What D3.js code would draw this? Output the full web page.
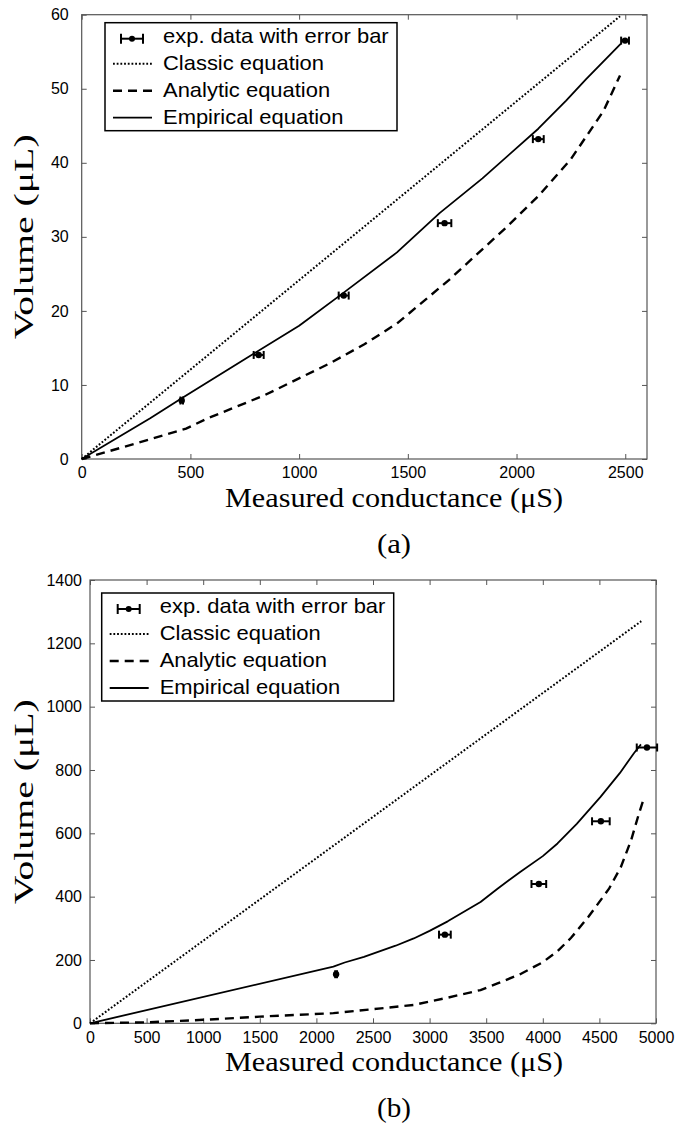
<!DOCTYPE html>
<html>
<head>
<meta charset="utf-8">
<script src="https://cdn.jsdelivr.net/npm/d3@7"></script>
<style>
  body { margin: 0; background: #fff; }
  .tick text { font-family: "Liberation Sans", Arial, sans-serif; font-size: 16px; fill: #000; }
  .tick line { stroke: #555; }
  .lab { font-family: "Liberation Serif", "Times New Roman", serif; font-size: 28px; fill: #000; }
  .leg { font-family: "Liberation Sans", Arial, sans-serif; font-size: 21px; fill: #000; }
</style>
</head>
<body>
<svg width="676" height="1125"></svg>
<script>
// panel (a)
const ticksXA = [0, 500, 1000, 1500, 2000, 2500];
const ticksYA = [0, 10, 20, 30, 40, 50, 60];
const expXA = [460, 814, 1205, 1669, 2100, 2499];
const expYA = [7.9, 14.05, 22.07, 31.85, 43.2, 56.5];
const expErrA = [6, 23, 23, 31, 25, 18];
const classicXA = [0, 2476];
const classicYA = [0, 59.8];
const analyticXA = [0, 250, 480, 580, 840, 1140, 1300, 1450, 1690, 1950, 2100, 2250, 2400, 2476];
const analyticYA = [0, 2.1, 4.1, 5.5, 8.6, 12.9, 15.5, 18.3, 24.2, 31.2, 35.5, 40.5, 47.0, 51.8];
const empiricalXA = [0, 315, 460, 757, 1000, 1202, 1450, 1646, 1843, 2100, 2228, 2320, 2480];
const empiricalYA = [0, 5.5, 8.2, 13.6, 18.0, 22.4, 27.9, 33.2, 37.9, 44.6, 48.4, 51.3, 56.1];

// panel (b)
const ticksXB = [0, 500, 1000, 1500, 2000, 2500, 3000, 3500, 4000, 4500, 5000];
const ticksYB = [0, 200, 400, 600, 800, 1000, 1200, 1400];
const expXB = [2174, 3135, 3965, 4513, 4920];
const expYB = [155, 280, 440, 638, 871];
const expErrB = [8, 52, 65, 78, 90];
const classicXB = [0, 4870];
const classicYB = [0, 1270];
const analyticXB = [0, 500, 1000, 1500, 2150, 2570, 2860, 3160, 3450, 3600, 3800, 4000, 4130, 4250, 4400, 4585, 4690, 4780, 4850, 4890];
const analyticYB = [0, 3, 11, 21, 32, 47, 58, 81, 105, 126, 155, 193, 228, 270, 335, 425, 494, 578, 663, 707];
const empiricalXB = [0, 2150, 2250, 2420, 2700, 2860, 3000, 3160, 3450, 3600, 3800, 4000, 4130, 4300, 4510, 4680, 4805, 4867];
const empiricalYB = [0, 179, 192, 210, 245, 268, 292, 322, 383, 425, 478, 528, 568, 630, 715, 790, 853, 881];

const legendLabels = ["exp. data with error bar", "Classic equation", "Analytic equation", "Empirical equation"];

const svg = d3.select("svg");

function zip(xs, ys) { return xs.map((x, i) => [x, ys[i]]); }

// the printed figure is stretched along its text runs
function stretch(sel, factor) {
  sel.each(function() {
    const w = this.getComputedTextLength();
    d3.select(this).attr("textLength", w * factor).attr("lengthAdjust", "spacingAndGlyphs");
  });
}

function drawPanel(p) {
  const x = d3.scaleLinear().domain(p.xDomain).range([p.left, p.right]);
  const y = d3.scaleLinear().domain(p.yDomain).range([p.bottom, p.top]);
  const fmt = d3.format("d");

  svg.append("g")
    .attr("transform", `translate(0,${p.bottom})`)
    .call(d3.axisBottom(x).tickValues(p.ticksX).tickFormat(fmt).tickSizeInner(-5).tickSizeOuter(0).tickPadding(8))
    .call(g => g.select(".domain").remove());
  svg.append("g")
    .attr("transform", `translate(0,${p.top})`)
    .call(d3.axisTop(x).tickValues(p.ticksX).tickFormat("").tickSizeInner(-5).tickSizeOuter(0))
    .call(g => g.select(".domain").remove());
  svg.append("g")
    .attr("transform", `translate(${p.left},0)`)
    .call(d3.axisLeft(y).tickValues(p.ticksY).tickFormat(fmt).tickSizeInner(-5).tickSizeOuter(0).tickPadding(p.yPad))
    .call(g => g.select(".domain").remove());
  svg.append("g")
    .attr("transform", `translate(${p.right},0)`)
    .call(d3.axisRight(y).tickValues(p.ticksY).tickFormat("").tickSizeInner(-5).tickSizeOuter(0))
    .call(g => g.select(".domain").remove());

  svg.append("rect")
    .attr("x", p.left).attr("y", p.top)
    .attr("width", p.right - p.left).attr("height", p.bottom - p.top)
    .attr("fill", "none").attr("stroke", "#555").attr("stroke-width", 1.2);

  const line = d3.line().x(d => x(d[0])).y(d => y(d[1]));

  svg.append("path").datum(zip(p.classicX, p.classicY))
    .attr("d", line).attr("fill", "none").attr("stroke", "#000")
    .attr("stroke-width", 2).attr("stroke-dasharray", "1.8,1.9");
  svg.append("path").datum(zip(p.analyticX, p.analyticY))
    .attr("d", line).attr("fill", "none").attr("stroke", "#000")
    .attr("stroke-width", 2.4).attr("stroke-dasharray", "9,6");
  svg.append("path").datum(zip(p.empiricalX, p.empiricalY))
    .attr("d", line).attr("fill", "none").attr("stroke", "#000")
    .attr("stroke-width", 1.8).attr("stroke-linejoin", "round");

  const pts = svg.append("g").selectAll("g")
    .data(p.expX.map((v, i) => ({ x: v, y: p.expY[i], e: p.expErr[i] })))
    .join("g");
  pts.append("line")
    .attr("x1", d => x(d.x - d.e)).attr("x2", d => x(d.x + d.e))
    .attr("y1", d => y(d.y)).attr("y2", d => y(d.y))
    .attr("stroke", "#000").attr("stroke-width", 2);
  pts.append("line")
    .attr("x1", d => x(d.x - d.e)).attr("x2", d => x(d.x - d.e))
    .attr("y1", d => y(d.y) - 4).attr("y2", d => y(d.y) + 4)
    .attr("stroke", "#000").attr("stroke-width", 2);
  pts.append("line")
    .attr("x1", d => x(d.x + d.e)).attr("x2", d => x(d.x + d.e))
    .attr("y1", d => y(d.y) - 4).attr("y2", d => y(d.y) + 4)
    .attr("stroke", "#000").attr("stroke-width", 2);
  pts.append("circle")
    .attr("cx", d => x(d.x)).attr("cy", d => y(d.y)).attr("r", 3.2).attr("fill", "#000");

  // legend
  const lg = svg.append("g").attr("transform", `translate(${p.legX},${p.legY})`);
  lg.append("rect").attr("width", p.legW).attr("height", 108)
    .attr("fill", "#fff").attr("stroke", "#000").attr("stroke-width", 1.5);
  legendLabels.forEach((t, i) => {
    const base = 20 + i * 27;
    const cy = base - 6;
    lg.append("text").attr("class", "leg").attr("x", 58).attr("y", base).text(t).call(stretch, 1.045);
    if (i === 0) {
      lg.append("line").attr("x1", 16).attr("x2", 38).attr("y1", cy + 2).attr("y2", cy + 2)
        .attr("stroke", "#000").attr("stroke-width", 2);
      [16, 38].forEach(cx => lg.append("line").attr("x1", cx).attr("x2", cx)
        .attr("y1", cy - 3).attr("y2", cy + 7).attr("stroke", "#000").attr("stroke-width", 2));
      lg.append("circle").attr("cx", 27).attr("cy", cy + 2).attr("r", 3).attr("fill", "#000");
    } else {
      const l = lg.append("line").attr("x1", 8).attr("x2", 47).attr("y1", cy).attr("y2", cy)
        .attr("stroke", "#000");
      if (i === 1) l.attr("stroke-width", 2).attr("stroke-dasharray", "1.8,1.9");
      if (i === 2) l.attr("stroke-width", 2.4).attr("stroke-dasharray", "9,6");
      if (i === 3) l.attr("stroke-width", 1.8);
    }
  });

  svg.append("text").attr("class", "lab")
    .attr("transform", `translate(33,${(p.top + p.bottom) / 2}) rotate(-90)`)
    .attr("text-anchor", "middle").text("Volume (\u03bcL)")
    .attr("textLength", 205).attr("lengthAdjust", "spacingAndGlyphs");
  svg.append("text").attr("class", "lab")
    .attr("x", 394).attr("y", p.bottom + 48)
    .attr("text-anchor", "middle").text("Measured conductance (\u03bcS)")
    .attr("textLength", 338).attr("lengthAdjust", "spacingAndGlyphs");
  svg.append("text").attr("class", "lab")
    .attr("x", 394).attr("y", p.bottom + 94)
    .attr("text-anchor", "middle").text(p.tag)
    .attr("textLength", 34).attr("lengthAdjust", "spacingAndGlyphs");
}

drawPanel({
  left: 81.7, right: 647, top: 14.7, bottom: 459,
  xDomain: [0, 2600], yDomain: [0, 60], ticksX: ticksXA, ticksY: ticksYA, yPad: 13,
  expX: expXA, expY: expYA, expErr: expErrA,
  classicX: classicXA, classicY: classicYA,
  analyticX: analyticXA, analyticY: analyticYA,
  empiricalX: empiricalXA, empiricalY: empiricalYA,
  legX: 105, legY: 22.7, legW: 292, tag: "(a)"
});

drawPanel({
  left: 90, right: 656, top: 580, bottom: 1023.3,
  xDomain: [0, 5000], yDomain: [0, 1400], ticksX: ticksXB, ticksY: ticksYB, yPad: 8,
  expX: expXB, expY: expYB, expErr: expErrB,
  classicX: classicXB, classicY: classicYB,
  analyticX: analyticXB, analyticY: analyticYB,
  empiricalX: empiricalXB, empiricalY: empiricalYB,
  legX: 101.7, legY: 593, legW: 292, tag: "(b)"
});
</script>
</body>
</html>
